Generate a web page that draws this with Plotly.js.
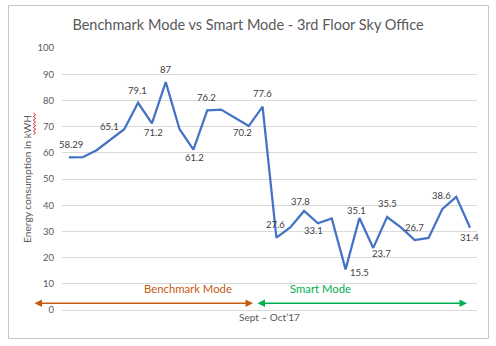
<!DOCTYPE html>
<html>
<head>
<meta charset="utf-8">
<script src="https://cdn.plot.ly/plotly-3.0.1.min.js"></script>
<style>html,body{margin:0;padding:0;background:#fff;}#chart{width:496px;height:346px;}</style>
</head>
<body>
<div id="chart"></div>
<script>
// ---- data ----
const days = ['D01','D02','D03','D04','D05','D06','D07','D08','D09','D10','D11','D12','D13','D14','D15',
              'D16','D17','D18','D19','D20','D21','D22','D23','D24','D25','D26','D27','D28','D29','D30'];
const energy = [58.29,58.3,61,65.1,69,79.1,71.2,87,69,61.2,76.2,76.5,73.4,70.2,77.6,
                27.6,31.5,37.8,33.1,34.9,15.5,35.1,23.7,35.5,31.5,26.7,27.5,38.6,43.2,31.4];
const labeled = [1,0,0,1,0,1,1,1,0,1,1,0,0,1,1,
                 1,0,1,1,0,1,1,1,1,0,1,0,1,0,1];
const yTicks = [0,10,20,30,40,50,60,70,80,90,100];
const phaseNames = ['Benchmark Mode','Smart Mode'];

// ---- label placement (pixel offsets, style only) ----
const labelShift = {
  0:[2,13], 3:[-1,13], 5:[-1,12], 6:[2,-9], 7:[0,13], 9:[1,-8], 10:[-1,13], 13:[-6,-6],
  14:[0,13], 15:[-1,13], 17:[-4,9], 18:[-4,-7], 20:[14,-3], 21:[-3,8], 22:[8,-6],
  23:[0,13], 25:[0,13], 27:[-1,13], 29:[-1,-10]
};

const W = 496, H = 346, L = 62, R = 19, T = 48, B = 36;
const pw = W - L - R, ph = H - T - B;
const px = x => (x - L) / pw;
const py = y => (H - B - y) / ph;

const grey = '#595959';
const font = 'Lato, "Open Sans", sans-serif';

const annotations = [];
energy.forEach((v, i) => {
  if (!labeled[i]) return;
  const s = labelShift[i] || [0, 12];
  annotations.push({
    x: i, y: v, xref: 'x', yref: 'y', text: String(v), showarrow: false,
    xshift: s[0], yshift: s[1], font: {family: font, size: 9.5, color: '#404040'}
  });
});

// phase arrows
const orange = '#C55A11', green = '#00B050';
annotations.push({xref:'x domain', yref:'y domain', axref:'x domain', ayref:'y domain',
  x: px(253), y: py(303.3), ax: px(33), ay: py(303.3), text: '', showarrow: true,
  arrowside: 'end+start', arrowhead: 2, arrowsize: 1, arrowwidth: 1.5, arrowcolor: orange});
annotations.push({xref:'x domain', yref:'y domain', axref:'x domain', ayref:'y domain',
  x: px(467), y: py(303.3), ax: px(256), ay: py(303.3), text: '', showarrow: true,
  arrowside: 'end+start', arrowhead: 2, arrowsize: 1, arrowwidth: 1.5, arrowcolor: green});
annotations.push({xref:'paper', yref:'paper', x: px(141.7), y: py(296.5), text: phaseNames[0],
  showarrow: false, font: {family: font, size: 11.3, color: orange}});
annotations.push({xref:'paper', yref:'paper', x: px(352.7), y: py(296.5), text: phaseNames[1],
  showarrow: false, font: {family: font, size: 11.3, color: green}});

// border + spell-check squiggle
let sq = '';
for (let k = 0, y = 113; y <= 135; k++, y += 1.8) {
  const x = 34.5 + (k % 2 ? 1.1 : -1.1);
  sq += (k === 0 ? 'M' : 'L') + px(x).toFixed(4) + ',' + py(y).toFixed(4);
}
const shapes = [
  {type:'rect', xref:'paper', yref:'paper', x0: px(8.5), x1: px(488.5), y0: py(338.5), y1: py(5.5),
   line:{color:'#c6c6c6', width:1}, fillcolor:'rgba(0,0,0,0)'},
  {type:'path', xref:'paper', yref:'paper', path: sq, line:{color:'#e02020', width:1}}
];

const trace = {
  x: days, y: energy, type: 'scatter', mode: 'lines',
  line: {color: '#4472C4', width: 2.25}, hoverinfo: 'x+y'
};

const layout = {
  width: W, height: H,
  margin: {l: L, r: R, t: T, b: B, pad: 0},
  paper_bgcolor: '#fff', plot_bgcolor: '#fff',
  font: {family: font, color: grey},
  showlegend: false,
  title: {text: 'Benchmark Mode vs Smart Mode - 3rd Floor Sky Office',
          x: 0.5, xanchor: 'center', y: 1 - 25/H, yanchor: 'middle',
          font: {family: font, size: 14.5, color: grey}},
  xaxis: {type: 'category', range: [-0.5, 29.5], showgrid: false, showticklabels: false,
          ticks: '', showline: false, zeroline: false, fixedrange: true,
          title: {text: 'Sept \u2013 Oct\u201917', standoff: 3, font: {family: font, size: 10, color: grey}}},
  yaxis: {range: [0, 100], tickvals: yTicks, showgrid: true, gridcolor: '#d9d9d9', gridwidth: 1,
          zeroline: true, zerolinecolor: '#d9d9d9', zerolinewidth: 1, showline: false,
          ticks: '', ticklabelstandoff: 7, tickfont: {family: font, size: 9.5, color: grey},
          fixedrange: true,
          title: {text: 'Energy consumption in kWH', standoff: 3, font: {family: font, size: 10.2, color: grey}}},
  annotations: annotations,
  shapes: shapes
};

Plotly.newPlot('chart', [trace], layout, {displayModeBar: false, staticPlot: true});
</script>
</body>
</html>
